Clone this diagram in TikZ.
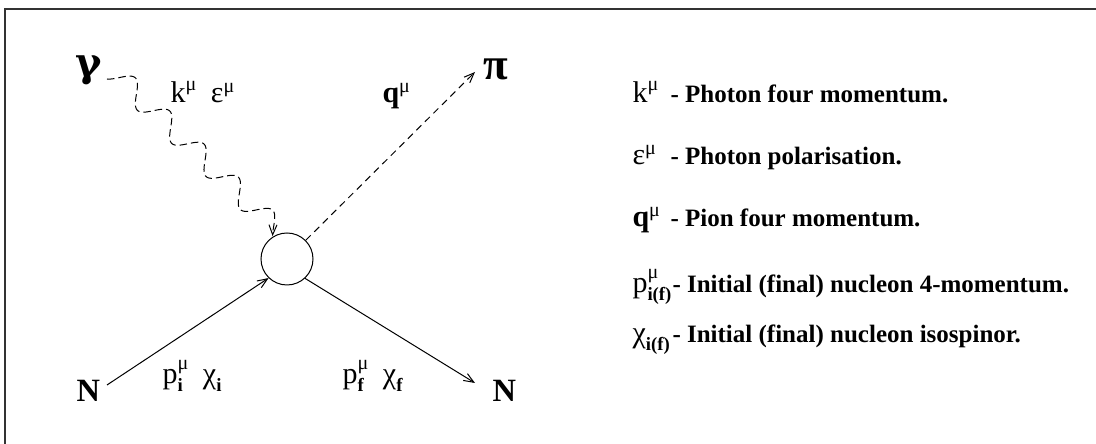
\documentclass[tikz,border=0pt]{standalone}
\usepackage{amsmath}
\usepackage{fontspec}
\setmainfont{Liberation Serif}
\newfontfamily\greekbig{DejaVu Serif}
\usepackage{tikz}
\usetikzlibrary{arrows.meta,calc}
\usepackage{xcolor}
\definecolor{FrameGray}{HTML}{333333}
\newcommand{\subbf}[1]{\text{\fontsize{7.5}{8}\selectfont\bfseries #1}}

\begin{document}
\begin{tikzpicture}[
    x=0.4pt, y=-0.4pt, line width=0.4pt,
    lbl/.style={inner sep=0pt, anchor=base west, font=\fontsize{12}{14}\selectfont},
    big/.style={inner sep=0pt, anchor=base west, font=\fontsize{18}{20}\selectfont\bfseries},
    nuc/.style={inner sep=0pt, anchor=base west, font=\fontsize{13}{15}\selectfont\bfseries},
    key/.style={inner sep=0pt, anchor=base west, font=\fontsize{10}{12}\selectfont\bfseries},
    vertex/.style={circle, draw, minimum size=20.8pt, inner sep=0pt},
    arr/.style={-{Straight Barb[length=4pt,width=3.2pt]}},
    photon/.style={dash pattern=on 3pt off 1.6pt},
    pion/.style={dash pattern=on 2.8pt off 2pt}
  ]
    \useasboundingbox (0,0) rectangle (1096,444);
    \draw[FrameGray, line width=0.7pt] (5,444) -- (5,9) -- (1096,9);

    % the diagram
    \node[vertex] (v) at (287,259) {};
    \node[big, font=\fontsize{16}{20}\selectfont\greekbig\bfseries] (gam) at (75,77) {γ};
    \node[big] (pi) at (483,80) {π};
    \node[nuc] (nl) at (76,402) {N};
    \node[nuc] (nr) at (492,402) {N};
    \node[lbl] (ke) at (170,103) {$\text{k}^{\text{μ}}$\hspace{0.45em}$\text{ε}^{\text{μ}}$};
    \node[lbl] (q) at (382,103) {$\textbf{q}^{\text{μ}}$};
    \node[lbl] (pi1) at (162,384) {$\text{p}^{\text{μ}}_{\subbf{i}}$\hspace{0.45em}$\text{χ}_{\subbf{i}}$};
    \node[lbl] (pf1) at (342,384) {$\text{p}^{\text{μ}}_{\subbf{f}}$\hspace{0.45em}$\text{χ}_{\subbf{f}}$};

    \coordinate (gs) at (107,79);
    \coordinate (ge) at (v.122);
    \coordinate (pe) at (475,72);
    \coordinate (ni) at (107,385);
    \coordinate (no) at (475,383);

    \draw[photon, arr] let \p1=($(ge)-(gs)$), \n1={atan2(\y1,\x1)}, \n2={veclen(\x1,\y1)} in
      [shift={(gs)}, rotate=\n1] plot[variable=\t, domain=0:1, samples=180]
      ({\t*\n2}, {4.4pt*((1-cos(30+1725*\t))-0.134*(1-\t)-0.293*\t)});
    \draw[pion, arr] (v.45) -- (pe);
    \draw[arr] (ni) -- (v.226);
    \draw[arr] (v.313) -- (no);

    % the key
    \node[lbl] (s1) at (632,103) {$\text{k}^{\text{μ}}$};
    \node[key] (t1) at (670,103) {- Photon four momentum.};
    \node[lbl] (s2) at (632,165) {$\text{ε}^{\text{μ}}$};
    \node[key] (t2) at (670,165) {- Photon polarisation.};
    \node[lbl] (s3) at (632,227) {$\textbf{q}^{\text{μ}}$};
    \node[key] (t3) at (670,227) {- Pion four momentum.};
    \node[lbl] (s4) at (632,293) {$\text{p}^{\text{μ}}_{\subbf{i(f)}}$};
    \node[key] (t4) at (672,293) {- Initial (final) nucleon 4-momentum.};
    \node[lbl] (s5) at (632,343) {$\text{χ}_{\subbf{i(f)}}$};
    \node[key] (t5) at (672,343) {- Initial (final) nucleon isospinor.};
  \end{tikzpicture}
\end{document}
